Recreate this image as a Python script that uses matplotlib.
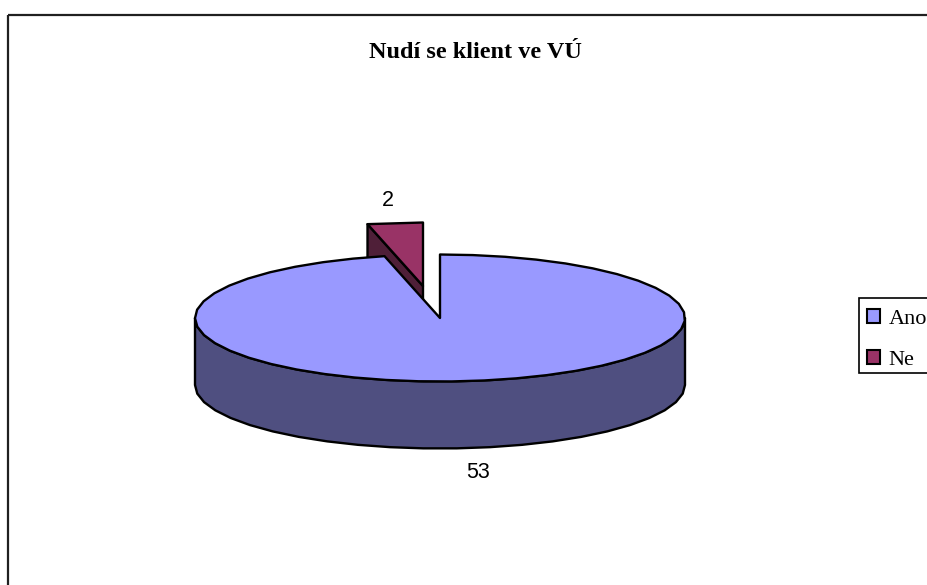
import numpy as np
import matplotlib
matplotlib.use("Agg")
import matplotlib.pyplot as plt
from matplotlib.patches import Polygon, Patch, Rectangle

title = "Nudí se klient ve VÚ"
categories = ["Ano", "Ne"]
values = [53, 2]
top_colors = ["#9999FF", "#993366"]
side_colors = ["#4F4F80", "#4F1F38"]

W, H = 928, 585
CX, CY, RX, RY, DEPTH = 440, 318, 245, 63.5, 67
EXPLODE = (-17, -32)
LW = 1.7

fig = plt.figure(figsize=(W / 100, H / 100), dpi=100)
ax = fig.add_axes([0, 0, 1, 1])
ax.set_xlim(0, W)
ax.set_ylim(H, 0)
ax.axis("off")

ax.add_patch(Rectangle((8, 15), W, H, fill=False, edgecolor="#202020", lw=1.6, zorder=0))


def rim(a0, a1, n):
    """Points on the top ellipse; angle measured clockwise from 12 o'clock."""
    t = np.radians(np.linspace(a0, a1, n))
    return np.column_stack([CX + RX * np.sin(t), CY - RY * np.cos(t)])


def poly(pts, color, z):
    ax.add_patch(Polygon(pts, closed=True, facecolor=color, edgecolor="black",
                         lw=LW, joinstyle="round", zorder=z))


total = sum(values)
sweep = [v / total * 360 for v in values]
a_end = sweep[0]

# exploded small slice, drawn first so that the big slice covers it
off = np.array(EXPLODE)
ne_rim = rim(a_end, 360, 2) + off
apex = np.array([CX, CY]) + off
down = np.array([0, DEPTH])
poly(np.vstack([ne_rim[0], apex, apex + down, ne_rim[0] + down]), side_colors[1], 2)
poly(np.vstack([ne_rim, apex]), top_colors[1], 3)

# big slice: outer wall (front half), then the top face
front = rim(90, 270, 24)
poly(np.vstack([front, front[::-1] + down]), side_colors[0], 4)
ano_rim = rim(0, a_end, 46)
poly(np.vstack([[CX, CY], ano_rim]), top_colors[0], 5)

# value labels
lab = dict(family="Liberation Sans", fontsize=15.5, ha="center", va="center", color="black", zorder=6)
ax.text(388, 201, str(values[1]), **lab)
ax.text(478, 473, str(values[0]), **lab)

# title
ax.text(475.5, 52, title, family="Liberation Serif", fontweight="bold", fontsize=17.5,
        ha="center", va="center", color="black")

# legend
ax.add_patch(Rectangle((859, 298), 200, 75, facecolor="white", edgecolor="black", lw=1.2, zorder=6))
handles = [Patch(facecolor=c, edgecolor="black", lw=1.5) for c in top_colors]
leg = ax.legend(handles, categories, loc="upper left", bbox_to_anchor=(867, 309),
                bbox_transform=ax.transData, borderaxespad=0, borderpad=0,
                labelspacing=0.95, handlelength=0.6, handleheight=0.6,
                handletextpad=0.38, frameon=False,
                prop={"family": "Liberation Serif", "size": 16})
leg.set_zorder(7)

fig.savefig("out.png", dpi=100)
